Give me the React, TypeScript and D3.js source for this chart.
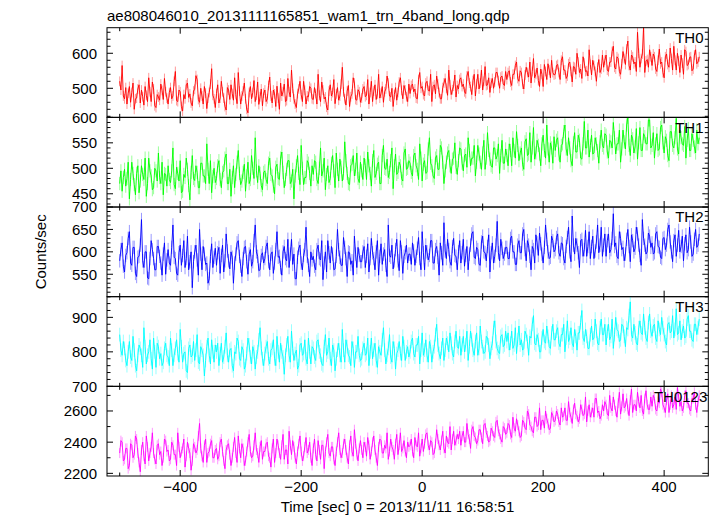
import React from "react";
import * as d3 from "d3";

const TITLE = "ae808046010_20131111165851_wam1_trn_4band_long.qdp";
const X_LABEL = "Time [sec] 0 = 2013/11/11 16:58:51";
const Y_LABEL = "Counts/sec";
const START_TIME = -500;
const BIN_SIZE = 2;

const seriesNames = ["TH0", "TH1", "TH2", "TH3", "TH0123"];
const seriesColors = ["#ff0000", "#00ff00", "#0000ff", "#00ffff", "#ff00ff"];
const seriesErrors = [14, 13, 15, 20, 32];
const yDomains: [number, number][] = [[417, 673], [424, 600], [500, 700], [700, 960], [2183, 2758]];
const yMajorTicks = [[500, 600], [450, 500, 550, 600], [550, 600, 650, 700], [700, 800, 900], [2200, 2400, 2600]];
const yMinorSteps = [20, 10, 10, 20, 100];
const xMajorTicks = [-400, -200, 0, 200, 400];
const xMinorTicks = [-500, -300, -100, 100, 300];

const th0 = [
  520,495,565,478,470,502,455,486,505,460,488,515,440,470,472,498,510,458,495,476,
  452,505,480,462,530,490,462,518,498,450,445,482,475,466,512,494,468,528,490,472,
  455,488,502,470,478,520,548,465,462,495,490,448,435,482,470,510,515,474,484,458,
  450,492,497,536,525,468,460,500,478,455,505,486,442,472,488,512,556,480,470,445,
  485,510,458,472,520,490,472,448,438,502,495,468,510,485,466,530,482,456,545,492,
  455,478,492,515,470,440,430,488,505,470,488,522,462,480,518,454,476,498,450,486,
  495,462,470,508,532,478,458,495,484,448,506,472,440,515,478,490,512,462,465,528,
  490,475,552,500,470,455,445,485,498,520,482,462,520,494,455,478,476,505,500,470,
  468,502,485,455,540,480,462,518,495,470,475,446,438,492,510,478,488,525,456,484,
  502,466,478,512,560,490,470,452,492,508,448,476,484,530,515,468,466,496,490,460,
  472,498,505,476,480,525,455,488,520,462,492,510,468,484,540,472,486,505,460,490,
  498,535,515,478,475,500,448,482,502,466,488,518,530,494,470,508,495,476,462,512,
  485,508,512,490,498,472,470,525,545,500,505,482,478,515,520,494,492,540,462,505,
  510,484,535,512,488,470,470,502,515,528,500,480,552,510,482,496,506,538,475,508,
  498,525,530,505,512,490,485,535,548,515,505,482,522,540,478,512,540,498,515,552,
  495,520,562,508,510,530,488,515,528,500,518,545,545,522,500,532,535,512,508,548,
  525,545,550,518,508,540,540,565,575,528,520,550,545,512,498,538,560,545,532,575,
  515,548,585,530,540,558,522,505,555,540,505,568,548,525,570,552,530,580,545,538,
  540,565,568,545,525,580,590,552,552,528,535,570,575,548,518,562,560,540,600,575,
  545,555,528,590,572,548,550,535,610,568,538,580,565,548,520,560,582,545,555,595,
  560,580,595,552,548,575,575,605,620,560,555,590,585,548,540,570,605,585,568,612,
  635,565,552,595,590,570,575,548,660,600,560,585,598,675,545,578,582,560,610,590,
  565,598,590,555,548,580,612,570,575,545,530,590,598,568,560,615,585,552,620,580,
  552,600,578,545,595,572,540,610,605,565,568,588,590,550,555,595,610,570,575,590,
];

const th1 = [
  470,495,455,482,498,465,480,512,440,478,512,490,468,448,490,505,452,475,505,488,
  478,520,445,470,520,495,485,458,462,500,495,475,530,482,470,512,448,490,488,465,
  505,478,472,495,540,468,460,502,490,475,515,452,455,488,482,520,498,466,438,492,
  525,480,476,505,492,462,462,510,510,485,485,470,548,498,470,515,452,484,500,472,
  480,505,515,478,462,492,495,520,528,470,470,498,445,482,505,462,488,512,535,490,
  468,475,492,508,455,485,512,470,478,525,500,480,560,495,472,505,490,466,458,492,
  495,478,470,510,520,488,485,465,450,502,508,480,478,520,532,492,462,478,498,515,
  515,470,475,498,440,485,505,525,490,468,545,500,468,482,482,515,510,490,465,505,
  488,515,512,478,470,500,540,485,495,520,458,488,505,472,480,510,525,495,462,530,
  498,475,518,502,475,490,552,515,490,470,468,505,508,525,485,498,530,480,472,512,
  495,478,520,505,478,532,505,490,465,515,535,482,490,508,512,470,470,525,545,500,
  498,518,482,492,515,540,460,505,528,488,492,512,505,480,475,530,538,498,500,515,
  510,492,485,525,530,505,498,478,548,520,475,508,515,490,492,538,560,510,505,485,
  480,520,525,498,498,545,540,512,470,495,512,530,535,505,490,518,520,550,502,488,
  515,540,538,510,495,525,528,502,560,535,505,520,520,545,485,512,545,528,512,498,
  530,555,498,520,570,535,518,505,502,540,540,518,525,548,490,525,555,510,510,538,
  525,505,548,535,505,560,535,520,572,545,515,530,540,508,498,552,558,525,528,570,
  512,540,580,518,530,555,545,528,505,548,565,535,520,585,538,512,550,540,510,562,
  535,555,560,528,512,545,548,572,585,538,525,560,540,515,505,550,570,532,532,565,
  555,520,518,548,592,540,540,575,522,545,565,528,530,560,548,535,510,552,575,545,
  540,568,565,532,520,555,552,540,590,560,528,548,548,575,512,538,575,552,538,585,
  600,545,525,565,558,530,542,578,518,550,580,535,535,568,562,548,548,595,595,540,
  545,570,520,548,568,535,538,580,585,550,530,562,555,525,515,572,572,545,540,560,
  598,538,528,575,560,548,545,582,520,555,578,535,535,568,555,542,530,575,548,560,
];

const th2 = [
  580,605,620,568,555,592,598,630,645,575,570,610,610,552,545,588,590,615,672,580,
  565,600,600,542,540,585,625,605,585,560,560,612,612,590,575,548,595,620,550,582,
  605,575,570,610,660,588,585,552,548,598,615,570,592,625,565,585,635,560,578,600,
  520,578,600,615,582,548,650,595,560,612,595,572,575,530,540,590,618,565,588,608,
  570,598,610,552,592,615,555,580,640,602,580,562,600,588,530,575,595,620,625,590,
  568,545,585,610,612,578,550,595,605,568,578,625,660,600,590,558,560,592,598,575,
  585,612,620,578,560,595,600,552,575,605,645,588,590,565,548,600,612,585,580,628,
  565,595,628,572,595,540,540,588,608,615,575,560,592,605,655,590,570,545,600,582,
  590,568,560,605,615,585,582,625,538,575,600,555,625,598,575,612,595,560,562,590,
  650,605,588,570,570,632,610,585,545,600,598,572,580,548,635,595,565,610,592,578,
  578,600,612,565,590,618,555,585,630,598,585,560,600,625,548,590,618,572,595,605,
  570,545,660,592,588,615,562,580,605,628,580,558,625,600,552,590,598,615,575,595,
  595,572,620,602,570,590,608,632,585,560,645,598,560,615,600,582,592,625,625,575,
  575,605,612,588,548,620,598,570,665,602,585,628,605,578,570,612,630,592,590,560,
  600,625,575,598,628,568,592,612,560,595,615,640,645,588,585,610,605,572,570,622,
  635,600,598,580,612,638,555,598,620,575,590,615,668,598,580,628,608,585,595,610,
  610,585,585,630,635,600,600,572,572,615,625,598,598,640,650,605,580,625,615,590,
  560,612,605,575,638,620,592,642,618,595,575,610,660,628,600,585,588,635,625,600,
  605,632,640,598,590,620,618,585,575,612,632,655,600,578,680,615,595,630,615,598,
  565,625,628,590,605,648,590,612,645,585,612,635,585,602,622,660,598,615,655,590,
  615,640,590,625,640,598,605,630,685,612,620,590,585,645,630,605,610,580,595,628,
  650,612,578,638,625,600,608,655,640,615,592,570,672,630,615,595,600,642,635,610,
  620,595,598,640,645,612,610,588,585,630,632,605,615,650,660,622,600,578,625,638,
  590,615,648,600,612,635,580,618,638,598,605,655,622,590,595,628,650,610,615,640,
];

const th3 = [
  850,805,790,830,810,775,760,800,830,785,775,845,805,760,745,790,820,810,790,755,
  870,815,765,790,800,835,780,750,840,800,755,825,815,780,795,760,770,810,825,790,
  785,760,840,805,760,790,810,835,795,770,865,815,770,795,800,745,740,810,820,785,
  790,830,775,805,850,770,765,815,805,790,730,775,815,840,790,765,835,800,770,820,
  800,825,760,795,825,770,785,815,855,790,770,805,810,760,745,800,795,840,830,780,
  775,815,805,750,760,795,840,820,785,765,815,800,750,785,800,835,870,810,780,760,
  795,815,830,780,765,805,810,835,780,760,845,800,770,825,800,785,735,790,820,845,
  790,770,860,810,775,795,805,750,760,820,825,790,795,835,780,765,840,800,765,815,
  810,785,775,830,835,800,790,765,760,815,850,790,800,840,780,760,820,805,745,780,
  805,825,790,770,865,805,770,835,815,790,785,760,830,810,755,800,800,845,790,775,
  780,810,825,790,795,840,760,800,840,780,805,825,775,755,815,800,790,835,870,805,
  765,790,810,850,785,770,830,810,750,795,805,830,795,775,845,815,775,800,815,785,
  800,830,840,795,785,820,820,845,765,805,855,790,805,835,790,770,830,815,770,800,
  815,850,880,820,795,780,810,840,775,805,840,825,800,855,825,795,785,830,860,815,
  810,845,790,820,845,800,820,860,775,815,860,835,805,790,830,855,790,810,875,830,
  815,795,800,845,840,820,780,810,825,870,890,830,810,800,795,845,850,815,820,860,
  830,855,805,825,860,810,820,870,795,835,875,820,835,805,810,860,850,830,790,845,
  840,880,905,825,820,850,835,800,800,840,865,830,825,875,845,815,810,855,880,835,
  835,860,870,825,815,850,850,880,800,840,890,830,840,870,825,815,865,845,805,855,
  855,885,920,840,830,865,845,810,810,850,875,835,840,895,860,825,820,870,895,850,
  850,880,820,860,880,835,845,895,810,850,900,865,860,830,835,880,875,845,815,870,
  865,905,945,850,840,880,855,825,820,870,890,855,850,910,870,840,830,885,910,860,
  845,875,880,840,830,890,865,850,900,870,850,830,820,880,885,855,860,905,840,865,
  925,850,855,890,835,860,875,840,845,895,905,860,860,835,830,880,880,850,870,895,
];

const th0123 = [
  2330,2410,2400,2280,2290,2360,2360,2230,2250,2390,2380,2300,2320,2440,2420,2330,2270,2210,2350,2400,
  2310,2260,2440,2370,2280,2330,2370,2460,2330,2290,2260,2380,2390,2320,2340,2250,2300,2420,2410,2340,
  2350,2280,2290,2400,2380,2320,2320,2250,2460,2370,2300,2340,2360,2420,2240,2310,2400,2360,2330,2220,
  2280,2390,2370,2330,2350,2440,2520,2360,2310,2270,2380,2420,2270,2330,2340,2390,2410,2300,2300,2350,
  2360,2290,2310,2400,2420,2340,2280,2230,2350,2380,2390,2320,2250,2300,2370,2430,2330,2270,2440,2360,
  2300,2390,2360,2250,2280,2340,2400,2450,2340,2300,2310,2380,2460,2350,2330,2270,2370,2410,2290,2340,
  2340,2390,2400,2310,2300,2240,2360,2420,2270,2330,2420,2380,2330,2290,2380,2450,2290,2350,2350,2260,
  2470,2380,2320,2410,2370,2300,2260,2340,2390,2440,2340,2280,2310,2370,2430,2330,2350,2400,2300,2250,
  2360,2420,2320,2280,2410,2350,2290,2380,2380,2230,2340,2400,2450,2330,2310,2370,2370,2290,2250,2340,
  2400,2460,2350,2300,2330,2390,2420,2350,2300,2260,2380,2440,2340,2310,2480,2390,2320,2280,2360,2410,
  2350,2300,2400,2370,2310,2430,2380,2290,2340,2400,2440,2350,2300,2250,2370,2420,2410,2330,2330,2380,
  2360,2460,2290,2340,2420,2370,2350,2290,2390,2450,2320,2380,2460,2340,2360,2410,2340,2300,2400,2370,
  2380,2420,2340,2300,2430,2380,2370,2460,2310,2360,2420,2340,2390,2450,2460,2380,2350,2410,2400,2320,
  2330,2390,2480,2420,2380,2350,2410,2470,2360,2330,2440,2400,2390,2500,2350,2420,2470,2380,2410,2450,
  2420,2470,2380,2440,2470,2400,2400,2520,2450,2420,2360,2480,2500,2440,2430,2390,2410,2480,2480,2430,
  2390,2510,2520,2460,2440,2400,2410,2490,2470,2440,2430,2530,2540,2470,2450,2420,2400,2500,2490,2450,
  2460,2520,2510,2450,2430,2560,2490,2470,2550,2510,2470,2430,2440,2540,2530,2490,2480,2600,2580,2510,
  2500,2470,2460,2560,2560,2500,2510,2620,2480,2540,2540,2490,2600,2550,2520,2480,2490,2590,2570,2530,
  2540,2600,2580,2530,2510,2620,2560,2570,2620,2540,2540,2660,2590,2560,2520,2610,2650,2580,2570,2530,
  2550,2640,2610,2570,2580,2690,2530,2600,2640,2560,2590,2620,2560,2680,2680,2590,2600,2550,2570,2640,
  2600,2660,2640,2580,2570,2700,2620,2600,2690,2640,2600,2560,2650,2720,2580,2630,2710,2620,2630,2680,
  2610,2570,2670,2740,2590,2640,2640,2600,2720,2660,2620,2700,2600,2580,2680,2730,2640,2610,2610,2690,
  2630,2700,2680,2610,2600,2660,2650,2740,2720,2640,2620,2590,2670,2710,2590,2640,2700,2620,2640,2690,
  2610,2750,2690,2630,2660,2600,2620,2700,2730,2650,2650,2610,2600,2680,2680,2720,2640,2590,2660,2700,
];

const seriesValues = [th0, th1, th2, th3, th0123];

const W = 717;
const H = 516;
const LEFT = 107;
const RIGHT = 708.3;
const TOP = 27.7;
const BOTTOM = 476;
const FONT = "'Liberation Sans', Arial, Helvetica, sans-serif";
const fmt = (v: number) => (v < 0 ? "\u2212" + Math.abs(v) : String(v));

export default function App() {
  const x = d3.scaleLinear().domain([-521, 473]).range([LEFT, RIGHT]);
  const ph = (BOTTOM - TOP) / seriesNames.length;

  return (
    <div style={{ position: "absolute", left: 0, top: 0 }}>
      <svg width={W} height={H} style={{ display: "block", background: "#fff" }} fontFamily={FONT}>
        <defs>
          {seriesNames.map((n, k) => (
            <clipPath id={`clip${k}`} key={n}>
              <rect x={LEFT} y={TOP + k * ph} width={RIGHT - LEFT} height={ph} />
            </clipPath>
          ))}
        </defs>
        <text x={LEFT} y={20.5} fontSize={15} fill="#000">{TITLE}</text>
        {seriesNames.map((name, k) => {
          const y0 = TOP + k * ph;
          const y1 = y0 + ph;
          const y = d3.scaleLinear().domain(yDomains[k]).range([y1, y0]);
          const vals = seriesValues[k];
          const times = vals.map((_, i) => START_TIME + i * BIN_SIZE);
          const err = seriesErrors[k];
          const line = d3.line<number>().x((_, i) => x(times[i])).y((v) => y(v));
          const minor = d3.range(
            Math.ceil(yDomains[k][0] / yMinorSteps[k]) * yMinorSteps[k],
            yDomains[k][1] + 0.001,
            yMinorSteps[k]
          ).filter((v) => !yMajorTicks[k].includes(v));
          return (
            <g key={name}>
              <g clipPath={`url(#clip${k})`}>
                <g stroke={seriesColors[k]} strokeWidth={1} opacity={0.4}>
                  {vals.map((v, i) => (
                    <line key={i} x1={x(times[i])} x2={x(times[i])} y1={y(v - err)} y2={y(v + err)} />
                  ))}
                </g>
                <path d={line(vals) || ""} fill="none" stroke={seriesColors[k]} strokeWidth={0.9} />
              </g>
              {yMajorTicks[k].map((t) => (
                <g key={"M" + t}>
                  <line x1={LEFT} x2={LEFT + 6} y1={y(t)} y2={y(t)} stroke="#000" />
                  <line x1={RIGHT} x2={RIGHT - 6} y1={y(t)} y2={y(t)} stroke="#000" />
                  <text x={97} y={y(t)} dy="0.36em" textAnchor="end" fontSize={15} fill="#000">{fmt(t)}</text>
                </g>
              ))}
              {minor.map((t) => (
                <g key={"m" + t}>
                  <line x1={LEFT} x2={LEFT + 3.5} y1={y(t)} y2={y(t)} stroke="#000" />
                  <line x1={RIGHT} x2={RIGHT - 3.5} y1={y(t)} y2={y(t)} stroke="#000" />
                </g>
              ))}
              {xMajorTicks.map((t) => (
                <g key={"xM" + t}>
                  <line x1={x(t)} x2={x(t)} y1={y0} y2={y0 + 6} stroke="#000" />
                  <line x1={x(t)} x2={x(t)} y1={y1} y2={y1 - 6} stroke="#000" />
                </g>
              ))}
              {xMinorTicks.map((t) => (
                <g key={"xm" + t}>
                  <line x1={x(t)} x2={x(t)} y1={y0} y2={y0 + 3.5} stroke="#000" />
                  <line x1={x(t)} x2={x(t)} y1={y1} y2={y1 - 3.5} stroke="#000" />
                </g>
              ))}
              <rect x={LEFT} y={y0} width={RIGHT - LEFT} height={ph} fill="none" stroke="#000" strokeWidth={1} />
              <text x={name === "TH0123" ? 707.3 : 703.5} y={y0 + 15.3} textAnchor="end" fontSize={15} fill="#000">{name}</text>
            </g>
          );
        })}
        {xMajorTicks.map((t) => (
          <text key={"xl" + t} x={x(t)} y={492} textAnchor="middle" fontSize={15} fill="#000">{fmt(t)}</text>
        ))}
        <text x={397.5} y={512} textAnchor="middle" fontSize={15} fill="#000">{X_LABEL}</text>
        <text transform={`translate(46,${(TOP + BOTTOM) / 2}) rotate(-90)`} textAnchor="middle" fontSize={15} fill="#000">{Y_LABEL}</text>
      </svg>
    </div>
  );
}
